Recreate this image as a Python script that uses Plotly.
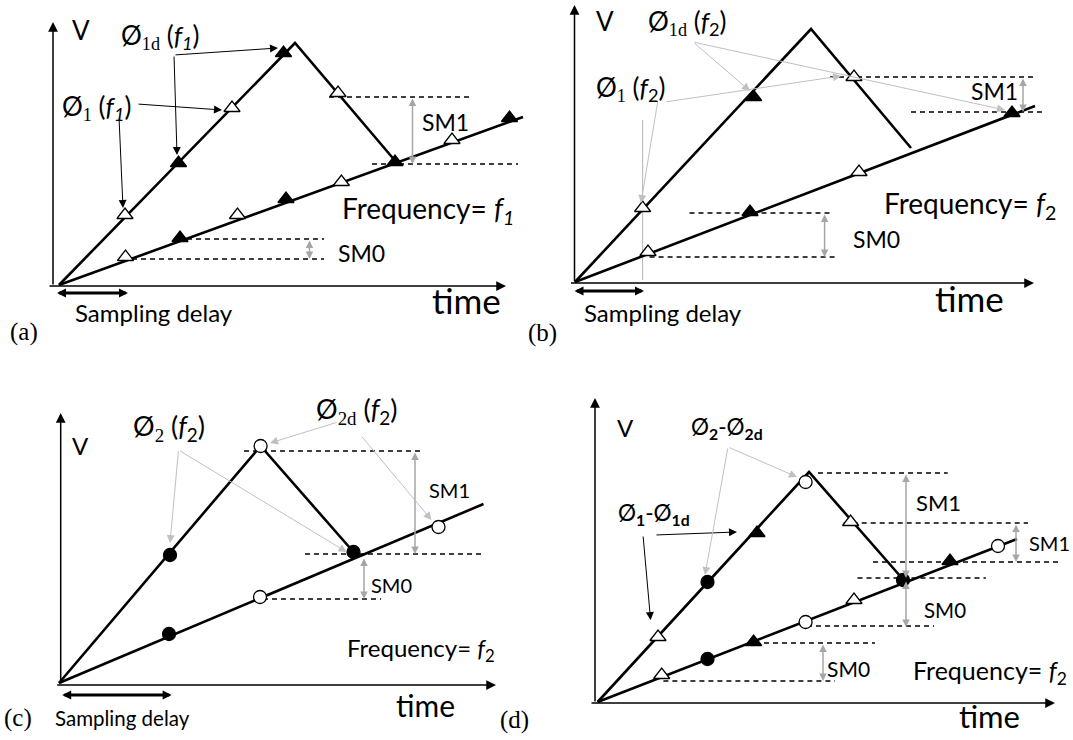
import plotly.graph_objects as go

W, H = 1073, 740
SANS = "Lato"
SERIF = "Liberation Serif"
GRAY = "#a6a6a6"
LGRAY = "#c0c0c0"

# ---------------- panel (a) ----------------
a_axis = (53, 286, 22, 506)            # x of V-axis, y of time-axis, top, right
a_peak_x = [59, 295, 397]
a_peak_y = [285, 43, 163]
a_low_x = [59, 523]
a_low_y = [285, 117]
a_open_tri_x = [125, 232, 338, 125.5, 237.5, 341.4, 452]
a_open_tri_y = [215, 108, 93, 257, 215, 182, 140]
a_fill_tri_x = [178.5, 283.5, 180, 286, 395, 509.5]
a_fill_tri_y = [163, 53, 238, 199, 162, 118]
a_dash = [(329, 473, 97), (372, 518, 164), (187, 324, 239), (132, 324, 259)]
a_sm = [(412.5, 97, 164), (309.5, 239, 259)]
a_ptr_black = [(174, 55, 278, 48), (174, 55, 177, 155), (137, 104, 222, 110), (119, 117, 123, 208)]

# ---------------- panel (b) ----------------
b_axis = (574.5, 283, 5, 1034)
b_peak_x = [575, 811, 911]
b_peak_y = [282, 29, 148]
b_low_x = [575, 1035]
b_low_y = [282, 106]
b_open_tri_x = [642.6, 854, 648, 859]
b_open_tri_y = [208, 77, 252, 172]
b_fill_tri_x = [753.6, 750, 1012]
b_fill_tri_y = [97, 212, 113]
b_dash = [(830, 1037, 77), (911, 1043, 112), (689.5, 833, 213), (649.6, 838.5, 257)]
b_sm = [(1023, 77, 112), (824.6, 213, 257)]
b_ptr_gray = [(693, 42, 750, 91), (693, 42, 1005, 110), (665, 102, 841, 76), (658, 100, 641, 203)]
b_gray_line = (642.6, 120, 280)

# ---------------- panel (c) ----------------
c_axis = (60.7, 685, 413, 496)
c_peak_x = [59, 260.6, 353.5]
c_peak_y = [683, 446, 552]
c_low_x = [59, 483.5]
c_low_y = [683, 504]
c_open_circ_x = [260.6, 260, 438.5]
c_open_circ_y = [446, 597, 527]
c_fill_circ_x = [170, 353.5, 169]
c_fill_circ_y = [555, 552, 634]
c_dash = [(244, 423, 451), (305, 485, 554), (263, 381, 599)]
c_sm = [(415, 451, 554), (364, 557, 599)]
c_ptr_gray = [(178.5, 450, 170, 543), (178.5, 450, 346.6, 552), (338, 422, 270, 443), (360.5, 435, 431.5, 520)]

# ---------------- panel (d) ----------------
d_axis = (595, 703, 398, 1055)
d_peak_x = [597.6, 809, 903.6]
d_peak_y = [702, 472, 580]
d_low_x = [597.6, 1017]
d_low_y = [702, 539]
d_open_tri_x = [658, 850.6, 661.7, 854]
d_open_tri_y = [637, 522, 675, 600]
d_fill_tri_x = [757, 753.6, 950]
d_fill_tri_y = [533, 642, 561]
d_open_circ_x = [805.6, 805.6, 998]
d_open_circ_y = [482, 622, 546]
d_fill_circ_x = [707.5, 903, 707.5]
d_fill_circ_y = [582, 580, 659]
d_dash = [(818, 947.7, 473), (857.5, 985.8, 578), (843.7, 1028, 523), (873, 1058, 562),
          (807, 934, 626), (755, 875, 643), (663.4, 835, 681)]
d_sm = [(906, 473, 578), (1016, 523, 562), (906, 580, 627), (823, 643, 681)]
d_ptr_gray = [(728, 447, 797, 477), (728, 447, 705, 575)]
d_ptr_black = [(655, 535, 737, 532), (643, 535, 650.6, 620)]

fig = go.Figure()


def line(x, y, color="black", width=2.6, dash=None):
    fig.add_trace(go.Scatter(x=x, y=y, mode="lines",
                             line=dict(color=color, width=width, dash=dash),
                             hoverinfo="skip", showlegend=False))


def arrow(x0, y0, x1, y1, color="black", width=1.0, size=1.6, both=False):
    fig.add_annotation(x=x1, y=y1, ax=x0, ay=y0, xref="x", yref="y", axref="x", ayref="y",
                       text="", showarrow=True, arrowhead=2, arrowsize=size, arrowwidth=width,
                       arrowcolor=color, arrowside="end+start" if both else "end",
                       startarrowhead=2, startarrowsize=size, standoff=0, startstandoff=0)


def text(x, y, s, size, family=SANS, xanchor="center", color="black"):
    fig.add_annotation(x=x, y=y, xref="x", yref="y", text=s, showarrow=False,
                       xanchor=xanchor, yanchor="middle",
                       font=dict(family=family, size=size, color=color))


def markers(x, y, symbol, fill, size):
    fig.add_trace(go.Scatter(x=x, y=y, mode="markers",
                             marker=dict(symbol=symbol, size=size, color=fill,
                                         line=dict(color="black", width=1.3)),
                             hoverinfo="skip", showlegend=False))


def axes(ax):
    xv, yb, top, right = ax
    arrow(xv, yb, xv, top, width=1.5, size=1.3)
    arrow(xv - 5, yb, right, yb, width=1.5, size=1.3)


def dashes(lst):
    for x0, x1, y in lst:
        line([x0, x1], [y, y], color="black", width=1.4, dash="5px,4px")


def sms(lst):
    for x, y0, y1 in lst:
        arrow(x, y0, x, y1, color=GRAY, width=1.5, size=1.0, both=True)


for ax in (a_axis, b_axis, c_axis, d_axis):
    axes(ax)
for lst in (a_dash, b_dash, c_dash, d_dash):
    dashes(lst)
for lst in (a_sm, b_sm, c_sm, d_sm):
    sms(lst)

line([b_gray_line[0]] * 2, [b_gray_line[1], b_gray_line[2]], color=LGRAY, width=1.2)

for px, py in ((a_peak_x, a_peak_y), (b_peak_x, b_peak_y), (c_peak_x, c_peak_y), (d_peak_x, d_peak_y),
               (a_low_x, a_low_y), (b_low_x, b_low_y), (c_low_x, c_low_y), (d_low_x, d_low_y)):
    line(px, py)

TRI = 14
CIR = 13
markers(a_open_tri_x, a_open_tri_y, "triangle-up", "white", TRI)
markers(a_fill_tri_x, a_fill_tri_y, "triangle-up", "black", TRI)
markers(b_open_tri_x, b_open_tri_y, "triangle-up", "white", TRI)
markers(b_fill_tri_x, b_fill_tri_y, "triangle-up", "black", TRI)
markers(c_open_circ_x, c_open_circ_y, "circle", "white", CIR)
markers(c_fill_circ_x, c_fill_circ_y, "circle", "black", CIR)
markers(d_open_tri_x, d_open_tri_y, "triangle-up", "white", TRI)
markers(d_fill_tri_x, d_fill_tri_y, "triangle-up", "black", TRI)
markers(d_open_circ_x, d_open_circ_y, "circle", "white", CIR)
markers(d_fill_circ_x, d_fill_circ_y, "circle", "black", CIR)

for p in a_ptr_black + d_ptr_black:
    arrow(*p, color="black", width=1, size=1.6)
for p in b_ptr_gray + c_ptr_gray + d_ptr_gray:
    arrow(*p, color=LGRAY, width=1, size=1.6)

# sampling delay arrows
arrow(55.5, 293, 128, 293, width=3, size=0.6, both=True)
arrow(573, 291, 644, 291, width=3, size=0.6, both=True)
arrow(60.7, 695, 171.6, 695, width=3, size=0.6, both=True)

SUBS = '<span style="font-family:Liberation Serif">{}</span>'

# texts panel a
text(81, 30, "V", 26)
text(119, 36, "Ø<sub>" + SUBS.format("1d") + "</sub> (<i>f</i><sub><i>1</i></sub>)", 26, xanchor="left")
text(60, 107, "Ø<sub>" + SUBS.format("1") + "</sub> (<i>f</i><sub><i>1</i></sub>)", 26, xanchor="left")
text(445, 122, "SM1", 23)
text(336, 253, "SM0", 23, xanchor="left")
text(340, 210, "Frequency= <i>f</i><sub><i>1</i></sub>", 28, xanchor="left")
text(154, 312, "Sampling delay", 24)
text(466, 300, "time", 35)
text(24, 332, "(a)", 25, family=SERIF)

# texts panel b
text(605, 21, "V", 26)
text(646, 22, "Ø<sub>" + SUBS.format("1d") + "</sub> (<i>f</i><sub>2</sub>)", 26, xanchor="left")
text(594, 88, "Ø<sub>" + SUBS.format("1") + "</sub> (<i>f</i><sub>2</sub>)", 26, xanchor="left")
text(994.5, 91, "SM1", 23)
text(851, 239, "SM0", 23, xanchor="left")
text(882, 205, "Frequency= <i>f</i><sub>2</sub>", 28, xanchor="left")
text(662.6, 312, "Sampling delay", 24)
text(969.5, 298, "time", 35)
text(542, 333, "(b)", 25, family=SERIF)

# texts panel c
text(80, 445, "V", 24)
text(131, 427, "Ø<sub>" + SUBS.format("2") + "</sub> (<i>f</i><sub>2</sub>)", 27, xanchor="left")
text(314, 410, "Ø<sub>" + SUBS.format("2d") + "</sub> (<i>f</i><sub>2</sub>)", 27, xanchor="left")
text(449, 490, "SM1", 20)
text(369, 585, "SM0", 20, xanchor="left")
text(345, 649, "Frequency= <i>f</i><sub>2</sub>", 24, xanchor="left")
text(122, 718, "Sampling delay", 20.5)
text(425.5, 705, "time", 30)
text(18, 718, "(c)", 25, family=SERIF)
text(514, 720, "(d)", 25, family=SERIF)

# texts panel d
text(625, 427, "V", 24)
text(689, 428, "Ø<sub><b>2</b></sub>-Ø<sub><b>2d</b></sub>", 22.5, xanchor="left")
text(616, 514, "Ø<sub><b>1</b></sub>-Ø<sub><b>1d</b></sub>", 22.5, xanchor="left")
text(938, 502, "SM1", 22)
text(1027, 543, "SM1", 20, xanchor="left")
text(922, 610, "SM0", 20.5, xanchor="left")
text(825, 668, "SM0", 21, xanchor="left")
text(911, 672, "Frequency= <i>f</i><sub>2</sub>", 25, xanchor="left")
text(989, 716, "time", 31)

fig.update_layout(
    width=W, height=H, margin=dict(l=0, r=0, t=0, b=0),
    paper_bgcolor="white", plot_bgcolor="white",
    xaxis=dict(range=[0, W], visible=False, fixedrange=True),
    yaxis=dict(range=[H, 0], visible=False, fixedrange=True),
    showlegend=False,
)

fig.write_html(
    "out.html",
    config={"displayModeBar": False, "staticPlot": True},
    post_script="document.body.style.margin='0';document.body.style.overflow='hidden';",
)
